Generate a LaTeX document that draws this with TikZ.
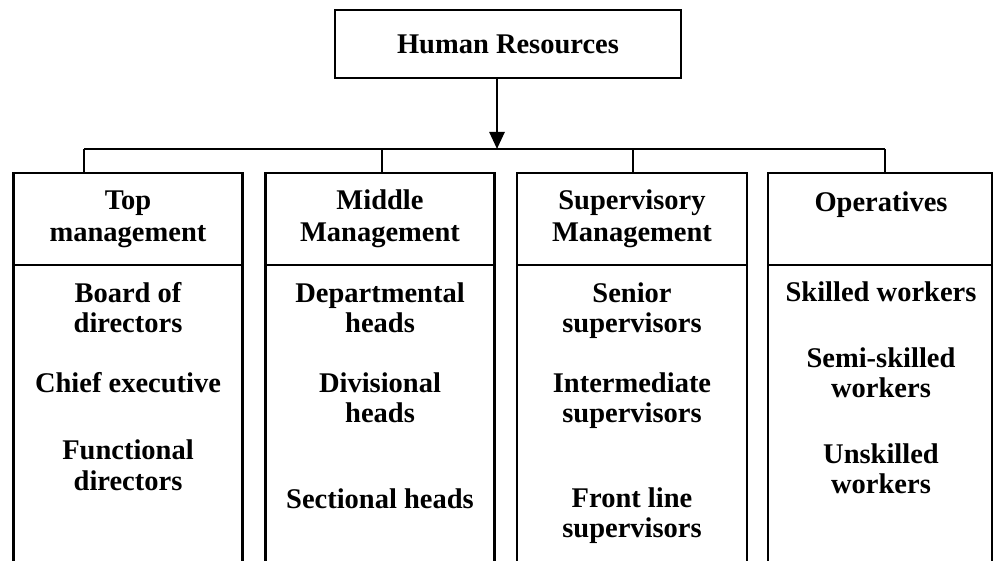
\documentclass[tikz,border=0pt]{standalone}
\usepackage{fontspec}
\setmainfont{Liberation Serif}
\usetikzlibrary{arrows.meta}
\begin{document}
\begin{tikzpicture}[x=1pt,y=-1pt,
  frame/.style={draw=black, line width=2.6pt, inner sep=0pt, outer sep=0pt},
  wire/.style={draw=black, line width=2.6pt},
  head/.style={wire, -{Triangle[length=17pt,width=15pt]}},
  lbl/.style={font=\bfseries\fontsize{28.5}{32}\selectfont, anchor=base, inner sep=0pt},
]
\fill[white] (0,0) rectangle (1002,561);
\useasboundingbox (0,0) rectangle (1002,561);

% root box
\node[frame, minimum width=346pt, minimum height=68pt,
      font=\bfseries\fontsize{28.5}{32}\selectfont] (hr) at (508,44) {Human Resources};

% bus and junctions
\coordinate (jn) at (497,149);
\coordinate (d1) at (84,149);
\coordinate (d2) at (382,149);
\coordinate (d3) at (633,149);
\coordinate (d4) at (885,149);
\coordinate (bot) at (0,565);

% level headers (open-bottom columns continue below)
\node[frame, minimum width=229pt, minimum height=92pt] (h1) at (128,219) {};
\node[frame, minimum width=229pt, minimum height=92pt] (h2) at (380,219) {};
\node[frame, minimum width=230pt, minimum height=92pt] (h3) at (632,219) {};
\node[frame, minimum width=224pt, minimum height=92pt] (h4) at (880,219) {};

\foreach \h in {h1,h2,h3,h4}{
  \draw[wire] (\h.south west) -- (\h.south west |- bot);
  \draw[wire] (\h.south east) -- (\h.south east |- bot);
}

% connectors
\draw[head] (hr.south -| jn) -- (jn);
\draw[wire] (d1) -- (d4);
\draw[wire] (d1) -- (d1 |- h1.north);
\draw[wire] (d2) -- (d2 |- h2.north);
\draw[wire] (d3) -- (d3 |- h3.north);
\draw[wire] (d4) -- (d4 |- h4.north);

% column 1
\node[lbl] (a1) at (128,210) {Top};
\node[lbl] (a2) at (128,242) {management};
\node[lbl] (a3) at (128,303) {Board of};
\node[lbl] (a4) at (128,333) {directors};
\node[lbl] (a5) at (128,393) {Chief executive};
\node[lbl] (a6) at (128,460) {Functional};
\node[lbl] (a7) at (128,490) {directors};

% column 2
\node[lbl] (b1) at (380,210) {Middle};
\node[lbl] (b2) at (380,242) {Management};
\node[lbl] (b3) at (380,303) {Departmental};
\node[lbl] (b4) at (380,333) {heads};
\node[lbl] (b5) at (380,393) {Divisional};
\node[lbl] (b6) at (380,423) {heads};
\node[lbl] (b7) at (380,508) {Sectional heads};

% column 3
\node[lbl] (c1) at (632,210) {Supervisory};
\node[lbl] (c2) at (632,242) {Management};
\node[lbl] (c3) at (632,303) {Senior};
\node[lbl] (c4) at (632,333) {supervisors};
\node[lbl] (c5) at (632,393) {Intermediate};
\node[lbl] (c6) at (632,423) {supervisors};
\node[lbl] (c7) at (632,507) {Front line};
\node[lbl] (c8) at (632,537) {supervisors};

% column 4
\node[lbl] (e1) at (881,212) {Operatives};
\node[lbl] (e2) at (881,302) {Skilled workers};
\node[lbl] (e3) at (881,368) {Semi-skilled};
\node[lbl] (e4) at (881,398) {workers};
\node[lbl] (e5) at (881,463) {Unskilled};
\node[lbl] (e6) at (881,493) {workers};
\end{tikzpicture}
\end{document}
